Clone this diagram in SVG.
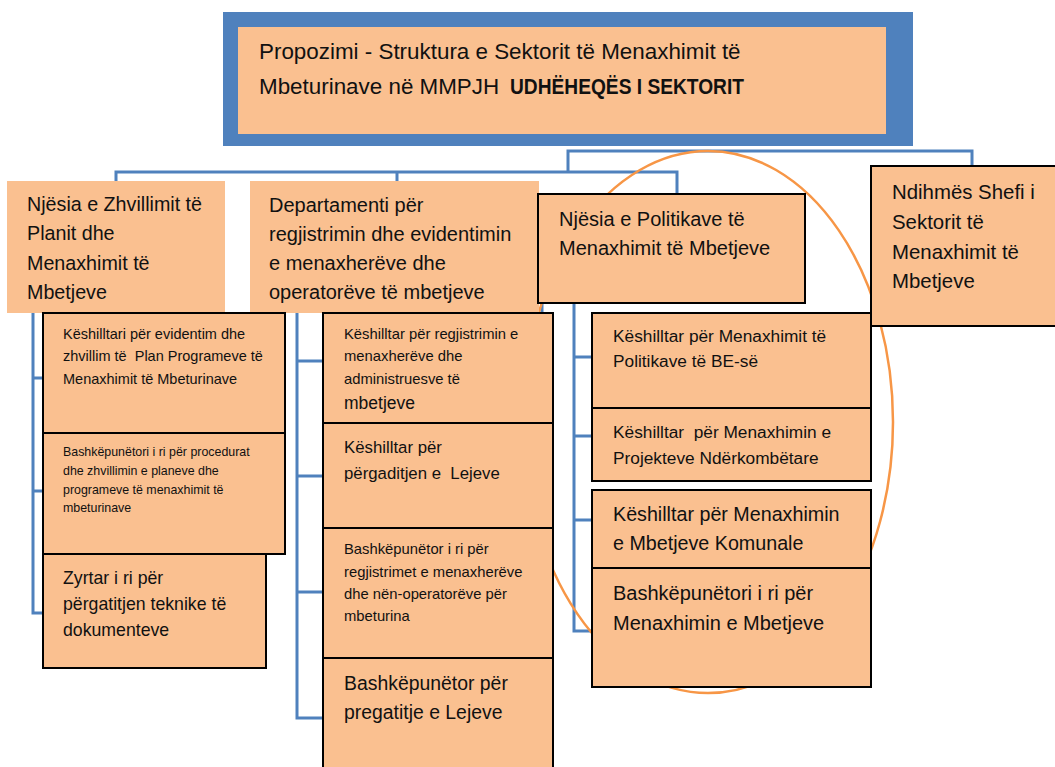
<svg xmlns="http://www.w3.org/2000/svg" width="1055" height="767" viewBox="0 0 1055 767">
<style>
text{font-family:"Liberation Sans",Arial,sans-serif;fill:#111;white-space:pre}
.pe{fill:#FAC090}
.bx{fill:#FAC090;stroke:#000;stroke-width:2}
.cn{fill:none;stroke:#4F81BD;stroke-width:3}
.ov{fill:none;stroke:#F79646;stroke-width:2.5}
</style>
<rect width="1055" height="767" fill="#fff"/>
<g id="connectors">
<path class="cn" d="M568,172 V151 H972 V166"/>
<path class="cn" d="M116,181 V172 H677 V194"/>
<path class="cn" d="M397,172 V181"/>
<path class="cn" d="M542,303 V313"/>
<path class="cn" d="M33,313 V613 H43 M33,378 H43 M33,491 H43"/>
<path class="cn" d="M297,313 V718 H323 M297,361 H323 M297,476 H323 M297,592 H323"/>
<path class="cn" d="M574,303 V631 H592 M574,357 H592 M574,436 H592 M574,520 H592"/>
</g>
<ellipse id="highlight" class="ov" cx="708" cy="422" rx="185" ry="271"/>
<g id="title">
<rect x="223" y="12" width="690" height="134" fill="#4F81BD"/>
<rect class="pe" x="238" y="27" width="648" height="107"/>
<text x="259" y="59" font-size="22.4">Propozimi - Struktura e Sektorit të Menaxhimit të</text>
<text x="259" y="94" font-size="22.4">Mbeturinave në MMPJH</text>
<text x="510" y="94" font-size="22" font-weight="bold" textLength="234" lengthAdjust="spacingAndGlyphs">UDHËHEQËS I SEKTORIT</text>
</g>
<g id="njesia-zhvillimit">
<rect class="pe" x="7" y="181" width="218" height="132"/>
<text font-size="19.7"><tspan x="27" y="211">Njësia e Zhvillimit të</tspan><tspan x="27" y="240">Planit dhe</tspan><tspan x="27" y="270">Menaxhimit të</tspan><tspan x="27" y="299">Mbetjeve</tspan></text>
</g>
<g id="departamenti">
<rect class="pe" x="250" y="181" width="289" height="132"/>
<text font-size="20"><tspan x="269" y="212">Departamenti për</tspan><tspan x="269" y="241">regjistrimin dhe evidentimin</tspan><tspan x="269" y="270">e menaxherëve dhe</tspan><tspan x="269" y="299">operatorëve të mbetjeve</tspan></text>
</g>
<g id="njesia-politikave">
<rect class="bx" x="538" y="194" width="267" height="109"/>
<text font-size="20"><tspan x="559" y="226">Njësia e Politikave të</tspan><tspan x="559" y="255">Menaxhimit të Mbetjeve</tspan></text>
</g>
<g id="ndihmes-shefi">
<rect class="bx" x="871" y="166" width="186" height="160"/>
<text font-size="20.4"><tspan x="892" y="199">Ndihmës Shefi i</tspan><tspan x="892" y="229">Sektorit të</tspan><tspan x="892" y="259">Menaxhimit të</tspan><tspan x="892" y="288">Mbetjeve</tspan></text>
</g>
<g id="a1">
<rect class="bx" x="43" y="313" width="242" height="120"/>
<text font-size="14.5"><tspan x="63" y="339">Këshilltari për evidentim dhe</tspan><tspan x="63" y="361">zhvillim të  Plan Programeve të</tspan><tspan x="63" y="384">Menaxhimit të Mbeturinave</tspan></text>
</g>
<g id="a2">
<rect class="bx" x="43" y="433" width="242" height="121"/>
<text font-size="12.4"><tspan x="63" y="456">Bashkëpunëtori i ri për procedurat</tspan><tspan x="63" y="475">dhe zhvillimin e planeve dhe</tspan><tspan x="63" y="494">programeve të menaxhimit të</tspan><tspan x="63" y="512">mbeturinave</tspan></text>
</g>
<g id="a3">
<rect class="bx" x="43" y="554" width="223" height="114"/>
<text font-size="17.7"><tspan x="63" y="584">Zyrtar i ri për</tspan><tspan x="63" y="610">përgatitjen teknike të</tspan><tspan x="63" y="636">dokumenteve</tspan></text>
</g>
<g id="b1">
<rect class="bx" x="323" y="313" width="230" height="110"/>
<text font-size="14.8"><tspan x="344" y="339">Këshilltar për regjistrimin e</tspan><tspan x="344" y="361">menaxherëve dhe</tspan><tspan x="344" y="384">administruesve të</tspan><tspan x="344" y="409" font-size="17.5">mbetjeve</tspan></text>
</g>
<g id="b2">
<rect class="bx" x="323" y="423" width="230" height="105"/>
<text font-size="16.8"><tspan x="344" y="453">Këshilltar për</tspan><tspan x="344" y="479">përgaditjen e  Lejeve</tspan></text>
</g>
<g id="b3">
<rect class="bx" x="323" y="528" width="230" height="130"/>
<text font-size="14.8"><tspan x="344" y="554">Bashkëpunëtor i ri për</tspan><tspan x="344" y="577">regjistrimet e menaxherëve</tspan><tspan x="344" y="599">dhe nën-operatorëve për</tspan><tspan x="344" y="621">mbeturina</tspan></text>
</g>
<g id="b4">
<rect class="bx" x="323" y="658" width="230" height="115"/>
<text font-size="19.4"><tspan x="344" y="690">Bashkëpunëtor për</tspan><tspan x="344" y="719">pregatitje e Lejeve</tspan></text>
</g>
<g id="c1">
<rect class="bx" x="592" y="313" width="279" height="95"/>
<text font-size="17.3"><tspan x="613" y="342">Këshilltar për Menaxhimit të</tspan><tspan x="613" y="367">Politikave të BE-së</tspan></text>
</g>
<g id="c2">
<rect class="bx" x="592" y="408" width="279" height="73"/>
<text font-size="17.3"><tspan x="613" y="438">Këshilltar  për Menaxhimin e</tspan><tspan x="613" y="464">Projekteve Ndërkombëtare</tspan></text>
</g>
<g id="c3">
<rect class="bx" x="592" y="490" width="279" height="78"/>
<text font-size="19.7"><tspan x="613" y="521">Këshilltar për Menaxhimin</tspan><tspan x="613" y="550">e Mbetjeve Komunale</tspan></text>
</g>
<g id="c4">
<rect class="bx" x="592" y="568" width="279" height="119"/>
<text font-size="20"><tspan x="613" y="600">Bashkëpunëtori i ri për</tspan><tspan x="613" y="630">Menaxhimin e Mbetjeve</tspan></text>
</g>
</svg>
